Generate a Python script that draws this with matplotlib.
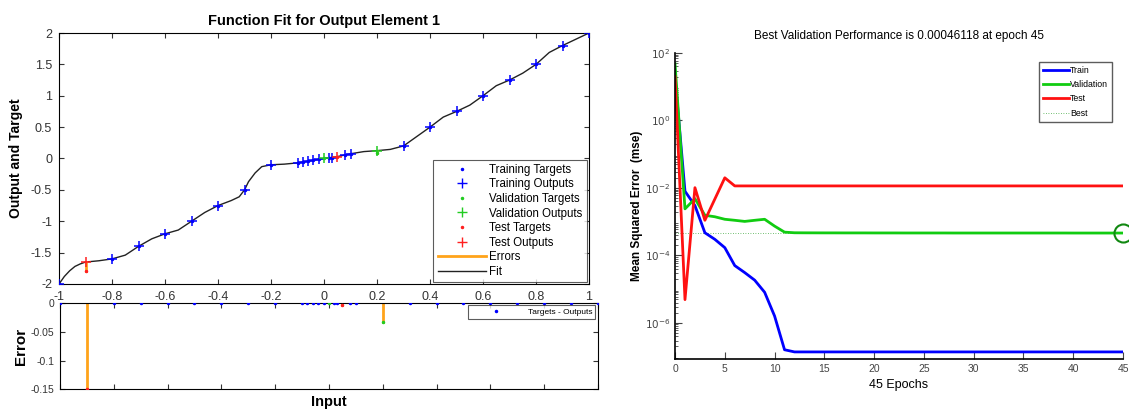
import numpy as np
import matplotlib
matplotlib.use("Agg")
import matplotlib.pyplot as plt
from matplotlib.lines import Line2D
from matplotlib.ticker import LogLocator, FixedLocator, NullFormatter

plt.rcParams['font.family'] = ['Liberation Sans', 'DejaVu Sans']

# ---- function fit data ----
train_x = [-1.0, -0.8, -0.7, -0.6, -0.5, -0.4, -0.3, -0.2, -0.1, -0.08, -0.06, -0.04,
           -0.02, 0.02, 0.03, 0.08, 0.1, 0.3, 0.4, 0.5, 0.6, 0.7, 0.8, 0.9, 1.0]
train_t = [-2.0, -1.6, -1.4, -1.2, -1.0, -0.75, -0.5, -0.1, -0.07, -0.06, -0.045, -0.03,
           -0.015, 0.01, 0.015, 0.05, 0.07, 0.2, 0.5, 0.75, 1.0, 1.25, 1.5, 1.8, 2.0]
train_err = [0.0, 0.0, 0.0, 0.0, 0.0, 0.0, 0.0, 0.0, 0.0, 0.0, 0.0, 0.0,
             0.0, 0.0, 0.0, 0.0, 0.0, 0.0, 0.0, 0.0, 0.0, 0.0, 0.0, 0.0, 0.0]

val_x = [0.0, 0.2]
val_t = [0.0, 0.092]
val_out = [0.0, 0.125]

test_x = [-0.9, 0.05]
test_t = [-1.80, 0.028]
test_out = [-1.65, 0.031]

fit_x = [-1.0, -0.98, -0.96, -0.94, -0.92, -0.9, -0.85, -0.8, -0.75, -0.7, -0.65, -0.6,
         -0.55, -0.5, -0.45, -0.4, -0.35, -0.32, -0.3, -0.285, -0.26, -0.235, -0.2,
         -0.15, -0.1, -0.05, 0.0, 0.05, 0.1, 0.15, 0.2, 0.25, 0.3, 0.35, 0.4, 0.45,
         0.5, 0.55, 0.6, 0.65, 0.7, 0.75, 0.8, 0.85, 0.9, 0.95, 1.0]
fit_y = [-2.0, -1.88, -1.79, -1.72, -1.68, -1.65, -1.63, -1.60, -1.54, -1.40, -1.28, -1.20,
         -1.14, -1.00, -0.86, -0.75, -0.67, -0.61, -0.50, -0.37, -0.23, -0.13, -0.10,
         -0.09, -0.07, -0.035, 0.0, 0.03, 0.075, 0.11, 0.125, 0.145, 0.20, 0.35, 0.50, 0.66,
         0.75, 0.85, 1.00, 1.16, 1.25, 1.36, 1.50, 1.69, 1.80, 1.90, 2.0]

# ---- performance data ----
epochs = list(range(46))
train_perf = [20, 8e-3, 3e-3, 4.7e-4, 3e-4, 1.7e-4, 5e-5, 3.1e-5, 1.85e-5, 8.1e-6,
              1.6e-6, 1.6e-7, 1.38e-7, 1.38e-7, 1.38e-7, 1.38e-7, 1.38e-7, 1.38e-7,
              1.38e-7, 1.38e-7, 1.38e-7, 1.38e-7, 1.38e-7, 1.38e-7, 1.38e-7, 1.38e-7,
              1.38e-7, 1.38e-7, 1.38e-7, 1.38e-7, 1.38e-7, 1.38e-7, 1.38e-7, 1.38e-7,
              1.38e-7, 1.38e-7, 1.38e-7, 1.38e-7, 1.38e-7, 1.38e-7, 1.38e-7, 1.38e-7,
              1.38e-7, 1.38e-7, 1.38e-7, 1.38e-7]
val_perf = [48, 2.4e-3, 4.8e-3, 1.55e-3, 1.4e-3, 1.18e-3, 1.1e-3, 1.02e-3, 1.1e-3, 1.18e-3,
            7.4e-4, 4.9e-4, 4.7e-4, 4.68e-4, 4.67e-4, 4.66e-4, 4.66e-4, 4.65e-4,
            4.65e-4, 4.65e-4, 4.64e-4, 4.64e-4, 4.64e-4, 4.63e-4, 4.63e-4, 4.63e-4,
            4.63e-4, 4.63e-4, 4.62e-4, 4.62e-4, 4.62e-4, 4.62e-4, 4.62e-4, 4.62e-4,
            4.62e-4, 4.62e-4, 4.62e-4, 4.62e-4, 4.62e-4, 4.62e-4, 4.612e-4, 4.612e-4,
            4.612e-4, 4.612e-4, 4.612e-4, 4.6118e-4]
test_perf = [20, 4.9e-6, 1.02e-2, 1.1e-3, 4.7e-3, 2.0e-2, 1.15e-2, 1.15e-2, 1.15e-2, 1.15e-2,
             1.15e-2, 1.15e-2, 1.15e-2, 1.15e-2, 1.15e-2, 1.15e-2, 1.15e-2, 1.15e-2,
             1.15e-2, 1.15e-2, 1.15e-2, 1.15e-2, 1.15e-2, 1.15e-2, 1.15e-2, 1.15e-2,
             1.15e-2, 1.15e-2, 1.15e-2, 1.15e-2, 1.15e-2, 1.15e-2, 1.15e-2, 1.15e-2,
             1.15e-2, 1.15e-2, 1.15e-2, 1.15e-2, 1.15e-2, 1.15e-2, 1.15e-2, 1.15e-2,
             1.15e-2, 1.15e-2, 1.15e-2, 1.15e-2]
best_epoch = 45
best_perf = 0.00046118

BLUE = '#0000ff'
GREEN = '#22cc22'
RED = '#ff2020'
ORANGE = '#ffa31a'

train_out = [t - e for t, e in zip(train_t, train_err)]
val_err = [t - o for t, o in zip(val_t, val_out)]
test_err = [t - o for t, o in zip(test_t, test_out)]

fig = plt.figure(figsize=(11.29, 4.12), dpi=100)

# ---------- top left: fit ----------
ax1 = fig.add_axes([0.0523, 0.3107, 0.4694, 0.6092])
for xs, ts, os_ in [(train_x, train_t, train_out), (val_x, val_t, val_out), (test_x, test_t, test_out)]:
    for x, t, o in zip(xs, ts, os_):
        ax1.plot([x, x], [t, o], color=ORANGE, lw=2, zorder=2)
ax1.plot(fit_x, fit_y, color='#222222', lw=1, zorder=1)
ax1.plot(train_x, train_t, '.', color=BLUE, ms=3, zorder=3)
ax1.plot(train_x, train_out, '+', color=BLUE, ms=7, mew=1.1, zorder=3)
ax1.plot(val_x, val_t, '.', color=GREEN, ms=3, zorder=3)
ax1.plot(val_x, val_out, '+', color=GREEN, ms=7, mew=1.1, zorder=3)
ax1.plot(test_x, test_t, '.', color=RED, ms=3, zorder=3)
ax1.plot(test_x, test_out, '+', color=RED, ms=7, mew=1.1, zorder=3)
ax1.set_xlim(-1, 1)
ax1.set_ylim(-2, 2)
ax1.set_xticks(np.linspace(-1, 1, 11))
ax1.set_xticklabels(['-1', '-0.8', '-0.6', '-0.4', '-0.2', '0', '0.2', '0.4', '0.6', '0.8', '1'])
ax1.set_yticks(np.linspace(-2, 2, 9))
ax1.set_yticklabels(['-2', '-1.5', '-1', '-0.5', '0', '0.5', '1', '1.5', '2'])
ax1.tick_params(direction='in', top=True, right=True, labelsize=9, colors='#333333', pad=5)
ax1.set_title('Function Fit for Output Element 1', fontsize=10.5, fontweight='bold', pad=6)
ax1.set_ylabel('Output and Target', fontsize=10, fontweight='bold', labelpad=6)

handles = [
    Line2D([], [], ls='none', marker='.', color=BLUE, ms=3),
    Line2D([], [], ls='none', marker='+', color=BLUE, ms=7),
    Line2D([], [], ls='none', marker='.', color=GREEN, ms=3),
    Line2D([], [], ls='none', marker='+', color=GREEN, ms=7),
    Line2D([], [], ls='none', marker='.', color=RED, ms=3),
    Line2D([], [], ls='none', marker='+', color=RED, ms=7),
    Line2D([], [], color=ORANGE, lw=2),
    Line2D([], [], color='#222222', lw=1),
]
labels = ['Training Targets', 'Training Outputs', 'Validation Targets', 'Validation Outputs',
          'Test Targets', 'Test Outputs', 'Errors', 'Fit']
leg = ax1.legend(handles, labels, loc='lower right', fontsize=8.3, frameon=True, fancybox=False,
                 edgecolor='#333333', handlelength=4.2, labelspacing=0.22, borderpad=0.35,
                 borderaxespad=0.2, handletextpad=0.3)
leg.get_frame().set_linewidth(0.8)

# ---------- bottom left: errors ----------
ax2 = fig.add_axes([0.0531, 0.055, 0.4765, 0.2096])
for xs, es in [(train_x, train_err), (val_x, val_err), (test_x, test_err)]:
    for x, e in zip(xs, es):
        ax2.plot([x, x], [0, e], color=ORANGE, lw=2, zorder=2)
ax2.plot(train_x, train_err, '.', color=BLUE, ms=3, zorder=3, label='Targets - Outputs')
ax2.plot(val_x, val_err, '.', color=GREEN, ms=3, zorder=3)
ax2.plot(test_x, test_err, '.', color=RED, ms=3, zorder=3)
ax2.set_xlim(-1, 1)
ax2.set_ylim(-0.15, 0)
ax2.set_xticks(np.linspace(-1, 1, 11))
ax2.set_xticklabels([])
ax2.set_yticks([0, -0.05, -0.1, -0.15])
ax2.set_yticklabels(['0', '-0.05', '-0.1', '-0.15'])
ax2.tick_params(direction='in', top=True, right=True, labelsize=7.5, colors='#333333', pad=4)
ax2.set_ylabel('Error', fontsize=11, fontweight='bold', labelpad=2)
ax2.set_xlabel('Input', fontsize=10.5, fontweight='bold', labelpad=0)
leg2 = ax2.legend(loc='upper right', fontsize=6, frameon=True, fancybox=False,
                  edgecolor='#333333', handlelength=6, borderpad=0.35, borderaxespad=0.3)
leg2.get_frame().set_linewidth(0.8)

# ---------- right: performance ----------
ax3 = fig.add_axes([0.5979, 0.1286, 0.3968, 0.7427])
ax3.semilogy(epochs, train_perf, color=BLUE, lw=2, label='Train')
ax3.semilogy(epochs, val_perf, color='#11cc11', lw=2, label='Validation')
ax3.semilogy(epochs, test_perf, color='#ff1111', lw=2, label='Test')
ax3.axhline(best_perf, color='#44aa44', lw=0.6, ls=(0, (1, 2)), label='Best', zorder=0)
ax3.axvline(best_epoch, color='#44aa44', lw=0.6, ls=(0, (1, 2)))
ax3.plot([best_epoch], [best_perf], 'o', mfc='none', mec='#118811', ms=13, mew=1.5, clip_on=False)
ax3.set_xlim(0, 45)
ax3.set_ylim(8.5e-8, 1e2)
ax3.set_xticks(range(0, 46, 5))
ax3.yaxis.set_major_locator(FixedLocator([1e-6, 1e-4, 1e-2, 1e0, 1e2]))
ax3.yaxis.set_minor_locator(LogLocator(base=10, subs=np.arange(2, 10), numticks=20))
ax3.yaxis.set_minor_formatter(NullFormatter())
ax3.set_yticklabels(['$10^{-6}$', '$10^{-4}$', '$10^{-2}$', '$10^{0}$', '$10^{2}$'])
ax3.spines['top'].set_visible(False)
ax3.spines['right'].set_visible(False)
ax3.spines['left'].set_linewidth(1.2)
ax3.spines['bottom'].set_linewidth(1.2)
ax3.tick_params(which='both', direction='in', labelsize=7.5, colors='#444444')
ax3.tick_params(which='major', length=5)
ax3.tick_params(which='minor', length=2.5)
ax3.set_title('Best Validation Performance is 0.00046118 at epoch 45', fontsize=8.5, pad=10)
ax3.set_ylabel('Mean Squared Error  (mse)', fontsize=8.5, fontweight='bold', labelpad=1)
ax3.set_xlabel('45 Epochs', fontsize=9)
leg3 = ax3.legend(loc='upper right', fontsize=6.3, frameon=True, fancybox=False,
                  edgecolor='#333333', handlelength=3.0, labelspacing=0.6, borderpad=0.45,
                  bbox_to_anchor=(0.985, 0.985), handletextpad=0.1)
leg3.get_frame().set_linewidth(1.0)

fig.savefig('out.png', dpi=100)
